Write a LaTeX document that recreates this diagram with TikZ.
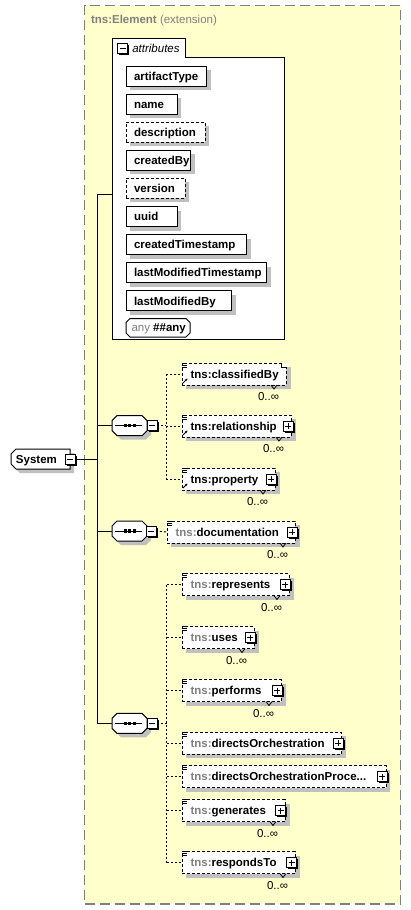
\documentclass[tikz,border=0pt]{standalone}
\usepackage{fontspec}
\setmainfont{Liberation Sans}
\usetikzlibrary{arrows.meta}
\definecolor{panelfill}{RGB}{255,255,204}
\definecolor{panelline}{RGB}{128,128,128}
\definecolor{shade}{RGB}{192,192,192}
\definecolor{nsgray}{RGB}{128,128,128}
\newcommand\lblfont{\fontsize{11.5}{13}\selectfont}
\newcommand\ns{\textcolor{nsgray}{tns:}}

\tikzset{
  every node/.style={inner sep=0pt, outer sep=0pt, font=\lblfont},
  tree/.style={draw=black, line width=1pt},
  optline/.style={draw=black, line width=1pt, dash pattern=on 2pt off 2pt},
  solidbox/.style={draw=black, line width=1pt, fill=white},
  dashbox/.style={draw=black, line width=1pt, fill=white, dash pattern=on 3pt off 2pt},
  shadowfill/.style={fill=shade},
  icon/.style={draw=black, line width=0.8pt},
}

% small expand/collapse buttons
\newcommand\btnframe[3]{%
  \fill[black] (#2+1.5,#3-3.5) rectangle (#2+11.5,#3+6.5);
  \node[solidbox, anchor=west, minimum width=10, minimum height=10] (#1) at (#2,#3) {};
  \draw[line width=1pt] (#2+2,#3) -- (#2+8,#3);}
\newcommand\minusbtn[3]{\btnframe{#1}{#2}{#3}}
\newcommand\plusbtn[3]{\btnframe{#1}{#2}{#3}\draw[line width=1pt] (#2+5,#3-3) -- (#2+5,#3+3);}

% attribute box: name, x0, x1, top, text, border style
\newcommand\attr[6]{%
  \fill[shadowfill] (#2+4,#4+4) rectangle (#3+4,#4+24);
  \node[#6, anchor=north west, minimum width={#3-#2}, minimum height=20] (#1) at (#2,#4) {};
  \node[anchor=base west] (#1-t) at (#2+8,#4+14.2) {\bfseries #5};}

% element box body: name, x0, x1, yc, label
\newcommand\elembody[5]{%
  \node[dashbox, anchor=west, minimum width={#3-#2}, minimum height=22] (#1) at (#2,#4) {};
  \node[anchor=base west] (#1-t) at (#2+8.5,#4+4) {\bfseries #5};
  \foreach \k in {0,2,4} \draw[icon] (#2,#4-11+\k) -- (#2+5,#4-11+\k);}
% single occurrence
\newcommand\elemone[5]{%
  \fill[shadowfill] (#2+4,#4-7) rectangle (#3+4,#4+15);
  \elembody{#1}{#2}{#3}{#4}{#5}}
% repeated occurrence: multiplicity under the box
\newcommand\elemrep[5]{%
  \fill[shadowfill] (#2+4,#4-7) rectangle (#3+5,#4+15);
  \elembody{#1}{#2}{#3}{#4}{#5}
  \draw[line width=0.8pt] (#3-15,#4+11) -- (#3-12,#4+15) -- (#3-9,#4+11);
  \node[anchor=base east] (#1-m) at (#3-7,#4+26.5) {0..∞};}
% notch at the top right of a repeated box
\newcommand\notch[3]{%
  \fill[white] (#2-5,#3-11.5) rectangle (#2+0.6,#3-7);
  \draw[line width=1pt] (#2-5,#3-11) -- (#2-5,#3-7) -- (#2,#3-7);}
% reference marker
\newcommand\refmark[3]{\draw[icon, -{Stealth[length=2.6pt,width=2.6pt]}] (#2+1,#3+9) -- (#2+5.5,#3+4.5);}

% compositor (sequence)
\newcommand\seqnode[3]{%
  \fill[shadowfill] (#2+9,#3-6) -- (#2+34,#3-6) -- (#2+39,#3-1) -- (#2+39,#3+9) -- (#2+34,#3+14) -- (#2+9,#3+14) -- (#2+4,#3+9) -- (#2+4,#3-1) -- cycle;
  \path[solidbox] (#2+5,#3-10) -- (#2+30,#3-10) -- (#2+35,#3-5) -- (#2+35,#3+5) -- (#2+30,#3+10) -- (#2+5,#3+10) -- (#2,#3+5) -- (#2,#3-5) -- cycle;
  \node[anchor=west, minimum width=35, minimum height=20] (#1) at (#2,#3) {};
  \draw[line width=1pt] (#2+3,#3) -- (#2+30,#3);
  \foreach \d in {11.5,16,20.5} \fill (#2+\d,#3-1.6) rectangle (#2+\d+3,#3+1.6);}

\begin{document}
\begin{tikzpicture}[x=1pt,y=-1pt]
\useasboundingbox (0,0) rectangle (411,910);
\fill[white] (0,0) rectangle (411,910);

% extension panel
\node[draw=panelline, fill=panelfill, line width=1.5pt, dash pattern=on 10pt off 5pt,
      anchor=north west, minimum width=316, minimum height=898.5] (panel) at (84.5,5.5) {};
\node[anchor=base west, text=nsgray] (paneltitle) at (91,23.5) {{\bfseries tns:Element} (extension)};

% attribute group
\path[solidbox] (112,38) -- (185,38) -- (185,57) -- (284,57) -- (284,339) -- (112,339) -- cycle;
\node[anchor=north west, minimum width=172, minimum height=301] (attrs) at (112,38) {};
\minusbtn{attrbtn}{117.5}{48.3}
\node[anchor=base west, font=\lblfont\itshape] (attrtitle) at (132.3,52.5) {attributes};

\attr{aType}{126}{206.7}{66}{artifactType}{solidbox}
\attr{aName}{126}{177}{94.1}{name}{solidbox}
\attr{aDesc}{126}{205}{122.2}{description}{dashbox}
\attr{aCreated}{126}{190.7}{150.3}{createdBy}{solidbox}
\attr{aVersion}{126}{185}{178.4}{version}{dashbox}
\attr{aUuid}{126}{177}{206.5}{uuid}{solidbox}
\attr{aCts}{126}{246.7}{234.6}{createdTimestamp}{solidbox}
\attr{aLmts}{126}{266.7}{262.7}{lastModifiedTimestamp}{solidbox}
\attr{aLmby}{126}{231.7}{290.8}{lastModifiedBy}{solidbox}

% wildcard
\path[draw=black, line width=1pt, fill=white] (130,318.5) -- (186,318.5) -- (190,322.5) -- (190,333) -- (186,337) -- (130,337) -- (126,333) -- (126,322.5) -- cycle;
\node[anchor=west, minimum width=64, minimum height=18.5] (anyAttr) at (126,327.7) {};
\node[anchor=base west] (anyAttr-t) at (131.5,331.8) {\textcolor{nsgray}{any} \bfseries\#\#any};

% root element
\fill[shadowfill] (20,453) -- (74,453) -- (74,473) -- (20,473) -- (15,468) -- (15,458) -- cycle;
\path[solidbox] (16,449) -- (70,449) -- (70,469) -- (16,469) -- (11,464) -- (11,454) -- cycle;
\node[anchor=west, minimum width=59, minimum height=20] (sys) at (11,459) {};
\node[anchor=base west] (sys-t) at (16,463.2) {\bfseries System};
\minusbtn{sysbtn}{65}{459}

% trunk
\coordinate (tTop) at (97,194.5);
\coordinate (tSys) at (97,459);
\coordinate (tS1) at (97,425.7);
\coordinate (tS2) at (97,531);
\coordinate (tS3) at (97,723.3);
\draw[tree] (tTop) -- (tS3);
\draw[tree] (sysbtn.east) -- (tSys);
\draw[tree] (tTop) -- (attrs.west |- tTop);

% sequences
\seqnode{seqA}{112}{425.7}
\minusbtn{seqAbtn}{147}{425.7}
\seqnode{seqB}{112}{531}
\minusbtn{seqBbtn}{146}{531}
\seqnode{seqC}{112}{723.3}
\minusbtn{seqCbtn}{147}{723.3}
\draw[tree] (tS1) -- (seqA.west);
\draw[tree] (tS2) -- (seqB.west);
\draw[tree] (tS3) -- (seqC.west);

% first sequence content
\elemrep{cls}{182}{286}{374}{tns:classifiedBy}
\notch{clsn}{286}{374}
\refmark{clsr}{182}{374}
\elemrep{rel}{182}{291}{426}{tns:relationship}
\refmark{relr}{182}{426}
\plusbtn{relbtn}{283}{426}
\elemrep{prop}{182}{275}{479}{tns:property}
\refmark{propr}{182}{479}
\plusbtn{propbtn}{266}{479}

\coordinate (vA) at (166,425.7);
\draw[optline] (seqAbtn.east) -- (vA);
\draw[optline] (cls.west -| vA) -- (prop.west -| vA);
\draw[optline] (cls.west -| vA) -- (cls.west);
\draw[optline] (rel.west -| vA) -- (rel.west);
\draw[optline] (prop.west -| vA) -- (prop.west);

% second sequence content
\elemrep{doc}{167}{295}{532}{\ns documentation}
\plusbtn{docbtn}{287}{532}
\draw[optline] (seqBbtn.east) -- (doc.west);

% third sequence content
\elemrep{rep}{182}{289}{584.5}{\ns represents}
\plusbtn{repbtn}{280}{584.5}
\elemrep{use}{182}{254}{637.5}{\ns uses}
\plusbtn{usebtn}{245}{637.5}
\elemrep{perf}{182}{281}{690.5}{\ns performs}
\plusbtn{perfbtn}{272}{690.5}
\elemone{dor}{182}{341.5}{743.3}{\ns directsOrchestration}
\plusbtn{dorbtn}{333}{743.3}
\elemone{dop}{182}{386}{776.5}{\ns directsOrchestrationProce...}
\plusbtn{dopbtn}{377}{776.5}
\elemrep{gen}{182}{285}{810.5}{\ns generates}
\plusbtn{genbtn}{275.5}{810.5}
\elemrep{rsp}{182}{295}{862.5}{\ns respondsTo}
\plusbtn{rspbtn}{286.5}{862.5}

\coordinate (vC) at (166.5,723.3);
\draw[optline] (seqCbtn.east) -- (vC);
\draw[optline] (rep.west -| vC) -- (rsp.west -| vC);
\foreach \e in {rep,use,perf,dor,dop,gen,rsp}
  \draw[optline] (\e.west -| vC) -- (\e.west);
\end{tikzpicture}
\end{document}
